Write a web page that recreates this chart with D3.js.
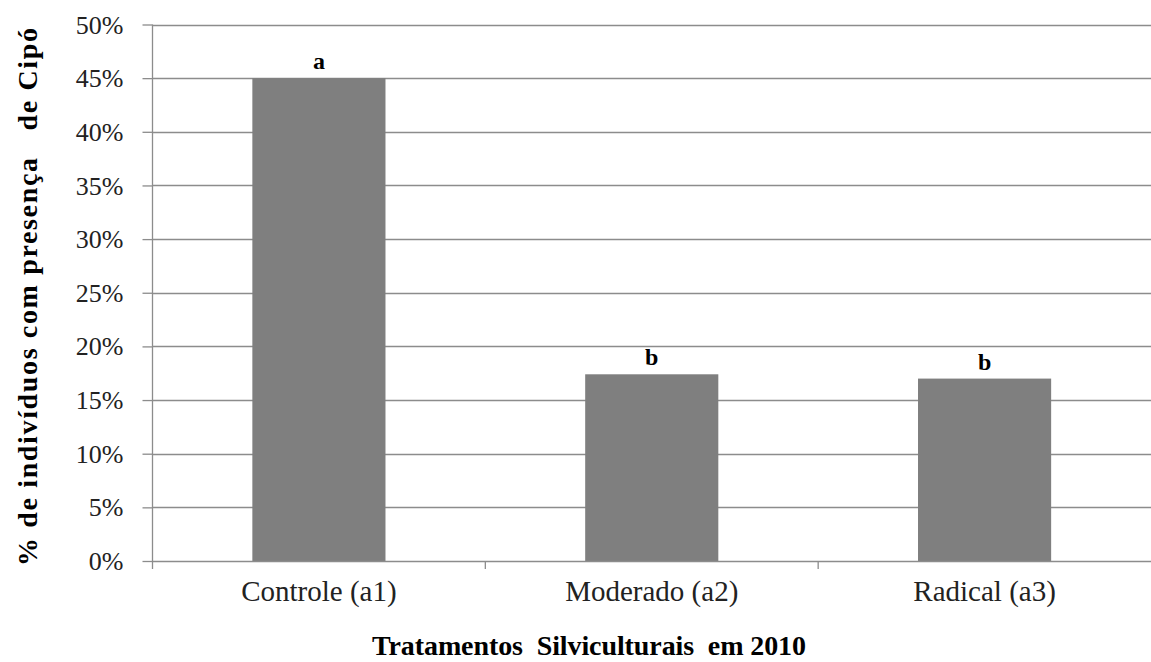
<!DOCTYPE html>
<html><head><meta charset="utf-8">
<script src="https://cdn.jsdelivr.net/npm/d3@7"></script>
<style>body{margin:0;background:#fff}svg{display:block}text{white-space:pre}</style>
</head><body><svg id="c" width="1151" height="662"></svg>
<script>
const categories = ["Controle (a1)", "Moderado (a2)", "Radical (a3)"];
const values = [0.45, 0.174, 0.170];
const letters = ["a", "b", "b"];
const yTicks = [0, 0.05, 0.10, 0.15, 0.20, 0.25, 0.30, 0.35, 0.40, 0.45, 0.50];
const yTitle = "% de indivíduos com presença   de Cipó";
const xTitle = "Tratamentos  Silviculturais  em 2010";

(function () {
const FF = '"Liberation Serif", "Times New Roman", serif';
const svg = d3.select("#c");
const pLeft = 152.5, pRight = 1151, pTop = 24.5, pBottom = 561;
const x = d3.scaleBand().domain(categories).range([pLeft, pRight]).paddingInner(0.6).paddingOuter(0.3);
const xb = d3.scaleBand().domain(categories).range([pLeft, pRight]).padding(0);
const y = d3.scaleLinear().domain([0, 0.5]).range([pBottom, pTop]);
const gridColor = "#8c8c8c";

svg.append("g").selectAll("line").data(yTicks.filter(d => d > 0)).join("line")
  .attr("x1", pLeft).attr("x2", pRight)
  .attr("y1", d => Math.round(y(d)) + 0.5).attr("y2", d => Math.round(y(d)) + 0.5)
  .attr("stroke", gridColor).attr("stroke-width", 1.3);

const ya = svg.append("g").attr("transform", `translate(${pLeft},0)`)
  .call(d3.axisLeft(y).tickValues(yTicks).tickFormat(d3.format(".0%")).tickSize(10).tickPadding(19));
ya.select(".domain").attr("stroke", gridColor).attr("stroke-width", 1.3).attr("d", `M0,${pTop}V${pBottom}`);
ya.selectAll(".tick line").attr("stroke", gridColor).attr("stroke-width", 1.3);
ya.selectAll(".tick text").attr("font-size", 26).attr("fill", "#222")
  .attr("font-family", FF).attr("dy", "0.33em");

svg.append("g").selectAll("rect").data(categories).join("rect")
  .attr("x", d => x(d)).attr("width", x.bandwidth())
  .attr("y", (d, i) => y(values[i])).attr("height", (d, i) => pBottom - y(values[i]))
  .attr("fill", "#7f7f7f");

const xa = svg.append("g").attr("transform", `translate(0,${pBottom})`)
  .call(d3.axisBottom(xb).tickSize(0).tickPadding(19));
xa.select(".domain").attr("stroke", gridColor).attr("stroke-width", 1.3).attr("d", `M${pLeft},0.5H${pRight}`);
xa.selectAll(".tick text").attr("font-size", 29).attr("fill", "#222").attr("font-family", FF);
svg.append("g").selectAll("line").data(categories).join("line")
  .attr("x1", d => xb(d)).attr("x2", d => xb(d))
  .attr("y1", pBottom).attr("y2", pBottom + 8)
  .attr("stroke", gridColor).attr("stroke-width", 1.3);

svg.append("g").selectAll("text").data(categories).join("text")
  .attr("x", d => x(d) + x.bandwidth() / 2)
  .attr("y", (d, i) => y(values[i]) - 9)
  .attr("text-anchor", "middle").attr("font-size", 24).attr("font-weight", "bold")
  .attr("font-family", FF).text((d, i) => letters[i]);

svg.append("text").attr("x", 372).attr("y", 655)
  .attr("font-size", 28).attr("font-weight", "bold").attr("font-family", FF)
  .attr("textLength", 434).attr("lengthAdjust", "spacing").text(xTitle);
svg.append("text").attr("transform", `translate(37,566) rotate(-90)`)
  .attr("font-size", 28).attr("font-weight", "bold").attr("font-family", FF)
  .attr("textLength", 538).attr("lengthAdjust", "spacing").text(yTitle);
})();
</script></body></html>
